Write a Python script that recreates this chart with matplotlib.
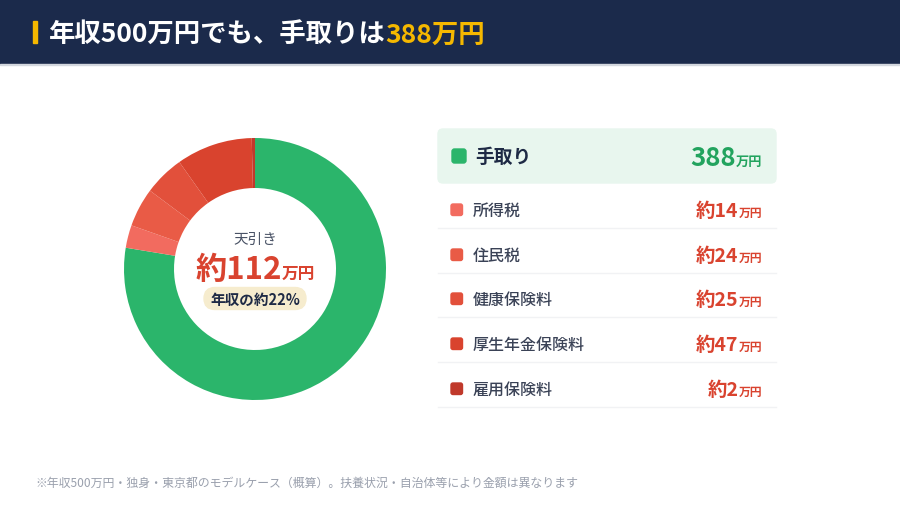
import matplotlib
matplotlib.use("Agg")
import matplotlib.pyplot as plt
from matplotlib.patches import FancyBboxPatch, Rectangle

plt.rcParams['font.family'] = ['Noto Sans CJK JP', 'DejaVu Sans']

# 内訳データ（万円）
labels = ["手取り", "所得税", "住民税", "健康保険料", "厚生年金保険料", "雇用保険料"]
values = [388, 14, 24, 25, 47, 2]
colors = ["#2bb56b", "#f26b5f", "#e95b46", "#e2503b", "#d9432e", "#c0392b"]
income = 500
title_main = "年収500万円でも、手取りは"
title_accent = "388万円"
note = "※年収500万円・独身・東京都のモデルケース（概算）。扶養状況・自治体等により金額は異なります"

deduction = sum(values[1:])
pct = round(deduction / income * 100)

NAVY = "#1b2a4b"
RED = "#d9432f"
GREEN_TXT = "#22a35e"

fig = plt.figure(figsize=(9, 5.06), dpi=100)
bg = fig.add_axes([0, 0, 1, 1])
bg.set_xlim(0, 900)
bg.set_ylim(506, 0)
bg.axis("off")
r = fig.canvas.get_renderer()


def width(t):
    return t.get_window_extent(r).width


def text_left(x, y, parts):
    for s, size, c in parts:
        t = bg.text(x, y, s, fontsize=size, color=c, fontweight="bold",
                    ha="left", va="baseline")
        x += width(t)


def text_right(x, y, parts):
    for s, size, c in reversed(parts):
        t = bg.text(x, y, s, fontsize=size, color=c, fontweight="bold",
                    ha="right", va="baseline")
        x -= width(t)


def text_center(x, y, parts):
    ts = [bg.text(0, y, s, fontsize=size, color=c, fontweight="bold",
                  ha="left", va="baseline") for s, size, c in parts]
    total = sum(width(t) for t in ts)
    cx = x - total / 2
    for t in ts:
        t.set_x(cx)
        cx += width(t)


# cabecera
bg.add_patch(Rectangle((0, 0), 900, 65, color=NAVY, zorder=0))
bg.add_patch(Rectangle((0, 65), 900, 1.2, color="#d3d7de", zorder=0))
bg.add_patch(Rectangle((33, 22), 4, 22, color="#f5b800", zorder=1))
text_left(49, 43, [(title_main, 19, "white"), (title_accent, 19, "#f5b800")])

# donut
cx, cy, R = 255, 270, 131
ax = fig.add_axes([(cx - R) / 900, (506 - cy - R) / 506, 2 * R / 900, 2 * R / 506])
ax.pie(values, colors=colors, startangle=90, counterclock=False,
       wedgeprops=dict(width=50 / 131, linewidth=0))
ax.set_xlim(-1, 1)
ax.set_ylim(-1, 1)
ax.axis("off")

bg.text(cx, 240, "天引き", fontsize=10.5, color="#4a5366", ha="center", va="center")
text_center(cx, 279, [(f"約{deduction}", 22.5, RED), ("万円", 12, RED)])
bg.add_patch(FancyBboxPatch((204, 288.5), 102, 22, boxstyle="round,pad=0,rounding_size=11",
                            color="#f6ecce", zorder=1))
bg.text(cx, 299.5, f"年収の約{pct}%", fontsize=10.5, color="#1e2a45",
        fontweight="bold", ha="center", va="center", zorder=2)

# leyenda
bg.add_patch(FancyBboxPatch((438, 130), 338, 54, boxstyle="round,pad=0,rounding_size=5",
                            color="#e8f6ee", zorder=0))
bg.add_patch(FancyBboxPatch((452, 150), 14, 14, boxstyle="round,pad=0,rounding_size=2.5",
                            color=colors[0], zorder=1))
bg.text(475, 157, labels[0], fontsize=13.5, color="#1e2a45", fontweight="bold",
        ha="left", va="center")
text_right(762, 166, [(str(values[0]), 18.5, GREEN_TXT), ("万円", 9.5, GREEN_TXT)])

rows_y = [211, 256, 300, 345, 390]
for lab, v, c, y in zip(labels[1:], values[1:], colors[1:], rows_y):
    bg.add_patch(FancyBboxPatch((451, y - 6), 11.5, 11.5,
                                boxstyle="round,pad=0,rounding_size=2", color=c, zorder=1))
    bg.text(473, y, lab, fontsize=11.5, color="#3a4256", fontweight="medium",
            ha="left", va="center")
    text_right(762, y + 6, [(f"約{v}", 14, RED), ("万円", 8.5, RED)])
    bg.plot([438, 776], [y + 18, y + 18], color="#f1f2f4", lw=1)

bg.text(35, 483, note, fontsize=8.6, color="#9aa0ad", ha="left", va="center")

plt.savefig("out.png", dpi=100, facecolor="white")
